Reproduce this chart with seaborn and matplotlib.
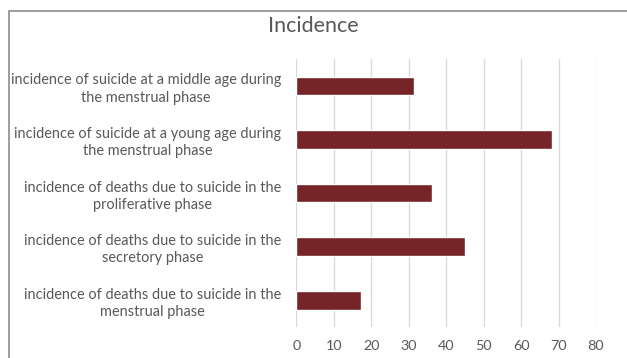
import matplotlib
matplotlib.use("Agg")
import matplotlib.pyplot as plt
import seaborn as sns
import pandas as pd
from matplotlib.patches import Rectangle

categories = [
    "incidence of suicide at a middle age during\nthe menstrual phase",
    "incidence of suicide at a young age during\nthe menstrual phase",
    "incidence of deaths due to suicide in the\nproliferative phase",
    "incidence of deaths due to suicide in the\nsecretory phase",
    "incidence of deaths due to suicide in the\nmenstrual phase",
]
values = [31.4, 68.3, 36.1, 45.1, 17.3]
x_ticks = [0, 10, 20, 30, 40, 50, 60, 70, 80]

sns.set_theme(style="white")
plt.rcParams["font.family"] = ["Lato", "DejaVu Sans"]

df = pd.DataFrame({"category": categories, "value": values})

fig = plt.figure(figsize=(6.27, 3.58), dpi=100)
ax = fig.add_axes([0.4726, 0.0866, 0.4780, 0.7480])

sns.barplot(data=df, x="value", y="category", color="#772428",
            saturation=1, width=0.35, ax=ax, orient="h")

ax.set_xlim(0, 80)
ax.set_xticks(x_ticks)
ax.set_xlabel("")
ax.set_ylabel("")
ax.grid(axis="x", color="#d9d9d9", linewidth=1)
ax.set_axisbelow(True)
for s in ax.spines.values():
    s.set_visible(False)
ax.tick_params(axis="x", length=0, pad=9.5, labelsize=10.4, labelcolor="#595959")
ax.tick_params(axis="y", length=0, pad=11, labelsize=10.45, labelcolor="#595959")
for lbl in ax.get_yticklabels():
    lbl.set_multialignment("center")
    lbl.set_linespacing(1.3)

fig.text(0.499, 0.928, "Incidence", ha="center", va="center",
         fontsize=15.5, color="#595959")

# chart-area border
fig.patches.append(Rectangle((8.5 / 627, -0.1), 1.2, 1.1 - 10.5 / 358,
                             transform=fig.transFigure, fill=False,
                             edgecolor="#8c8c8c", linewidth=1.2))

fig.savefig("out.png", dpi=100, facecolor="white")
